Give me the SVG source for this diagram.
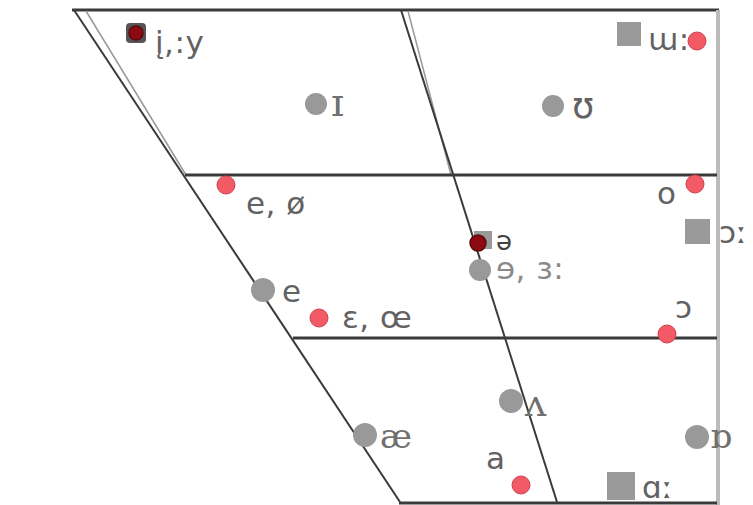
<svg xmlns="http://www.w3.org/2000/svg" width="753" height="505" viewBox="0 0 753 505">
<style>
.ln{stroke:#3a3a3a;stroke-width:2;fill:none}
.hz{stroke:#3a3a3a;stroke-width:3;fill:none}
.lt{stroke:#999;stroke-width:1.5;fill:none}
.gc{fill:#999}
.gs{fill:#9a9a9a}
.rc{fill:#f25a66;stroke:#d04050;stroke-width:1}
.dr{fill:#8e0a12;stroke:#5a0a0a;stroke-width:1.5}
.t{font-family:"DejaVu Sans","Liberation Sans",sans-serif;font-size:31px;fill:#626262;letter-spacing:0.5px}
.s{font-family:"DejaVu Serif","Liberation Serif",serif;font-size:34px;fill:#707070}
</style>
<rect width="753" height="505" fill="#fff"/>
<g id="connectors">
<line class="hz" x1="72" y1="10" x2="719" y2="10"/>
<line class="lt" x1="718" y1="10" x2="718" y2="505" style="stroke:#bbb;stroke-width:4"/>
<line class="lt" x1="86" y1="11" x2="186" y2="175"/>
<line class="ln" x1="74" y1="10" x2="400" y2="502"/>
<line class="lt" x1="408" y1="11" x2="451" y2="175"/>
<line class="ln" x1="401" y1="10" x2="557" y2="502"/>
<line class="hz" x1="185" y1="175" x2="717" y2="175"/>
<line class="hz" x1="293" y1="338" x2="717" y2="338"/>
<line class="hz" x1="399" y1="503" x2="717" y2="503"/>
</g>
<g id="n-i">
<rect x="126" y="23" width="20" height="20" rx="4" fill="#555"/>
<circle class="dr" cx="136" cy="33" r="7"/>
<text class="t" x="155" y="53">į,:y</text>
</g>
<g id="n-I"><circle class="gc" cx="316" cy="104" r="11"/><text class="s" x="331" y="116" style="font-size:40px">ɪ</text></g>
<g id="n-U"><circle class="gc" cx="553" cy="106" r="11"/><text class="t" x="572" y="118" style="font-size:36px">ʊ</text></g>
<g id="n-u">
<rect class="gs" x="617" y="22" width="24" height="24"/>
<text class="t" x="648" y="50">ɯ:</text>
<circle class="rc" cx="697" cy="41" r="9"/>
</g>
<g id="n-e-o"><circle class="rc" cx="226" cy="185" r="9"/><text class="t" x="246" y="214">e, ø</text></g>
<g id="n-o"><circle class="rc" cx="695" cy="184" r="9"/><text class="t" x="657" y="204">o</text></g>
<g id="n-oo"><rect class="gs" x="685" y="219" width="25" height="25"/><text class="t" x="719" y="243">ɔː</text></g>
<g id="n-schwa">
<circle class="gc" cx="480" cy="270" r="11"/>
<rect class="gs" x="474" y="231" width="18" height="18"/>
<circle class="dr" cx="478" cy="243" r="8"/>
<text class="t" x="496" y="250" style="fill:#444;font-size:26px">ə</text>
<text class="t" x="496" y="279" style="fill:#8a8a8a">ɘ, ɜ:</text>
</g>
<g id="n-e2"><circle class="gc" cx="263" cy="290" r="12"/><text class="t" x="282" y="302">e</text></g>
<g id="n-eps"><circle class="rc" cx="319" cy="318" r="9"/><text class="t" x="342" y="328">ɛ, œ</text></g>
<g id="n-open-o"><circle class="rc" cx="667" cy="334" r="9"/><text class="t" x="675" y="318">ɔ</text></g>
<g id="n-wedge"><circle class="gc" cx="511" cy="401" r="12"/><text class="s" x="525" y="416" style="font-size:38px">ʌ</text></g>
<g id="n-ae"><circle class="gc" cx="365" cy="435" r="12"/><text class="s" x="380" y="448">æ</text></g>
<g id="n-a"><text class="t" x="486" y="469">a</text><circle class="rc" cx="521" cy="485" r="9"/></g>
<g id="n-aa"><rect class="gs" x="607" y="472" width="28" height="28"/><text class="t" x="642" y="498">ɑː</text></g>
<g id="n-rounded-a"><circle class="gc" cx="697" cy="437" r="12"/><text class="s" x="710" y="448">ɒ</text></g>
</svg>
